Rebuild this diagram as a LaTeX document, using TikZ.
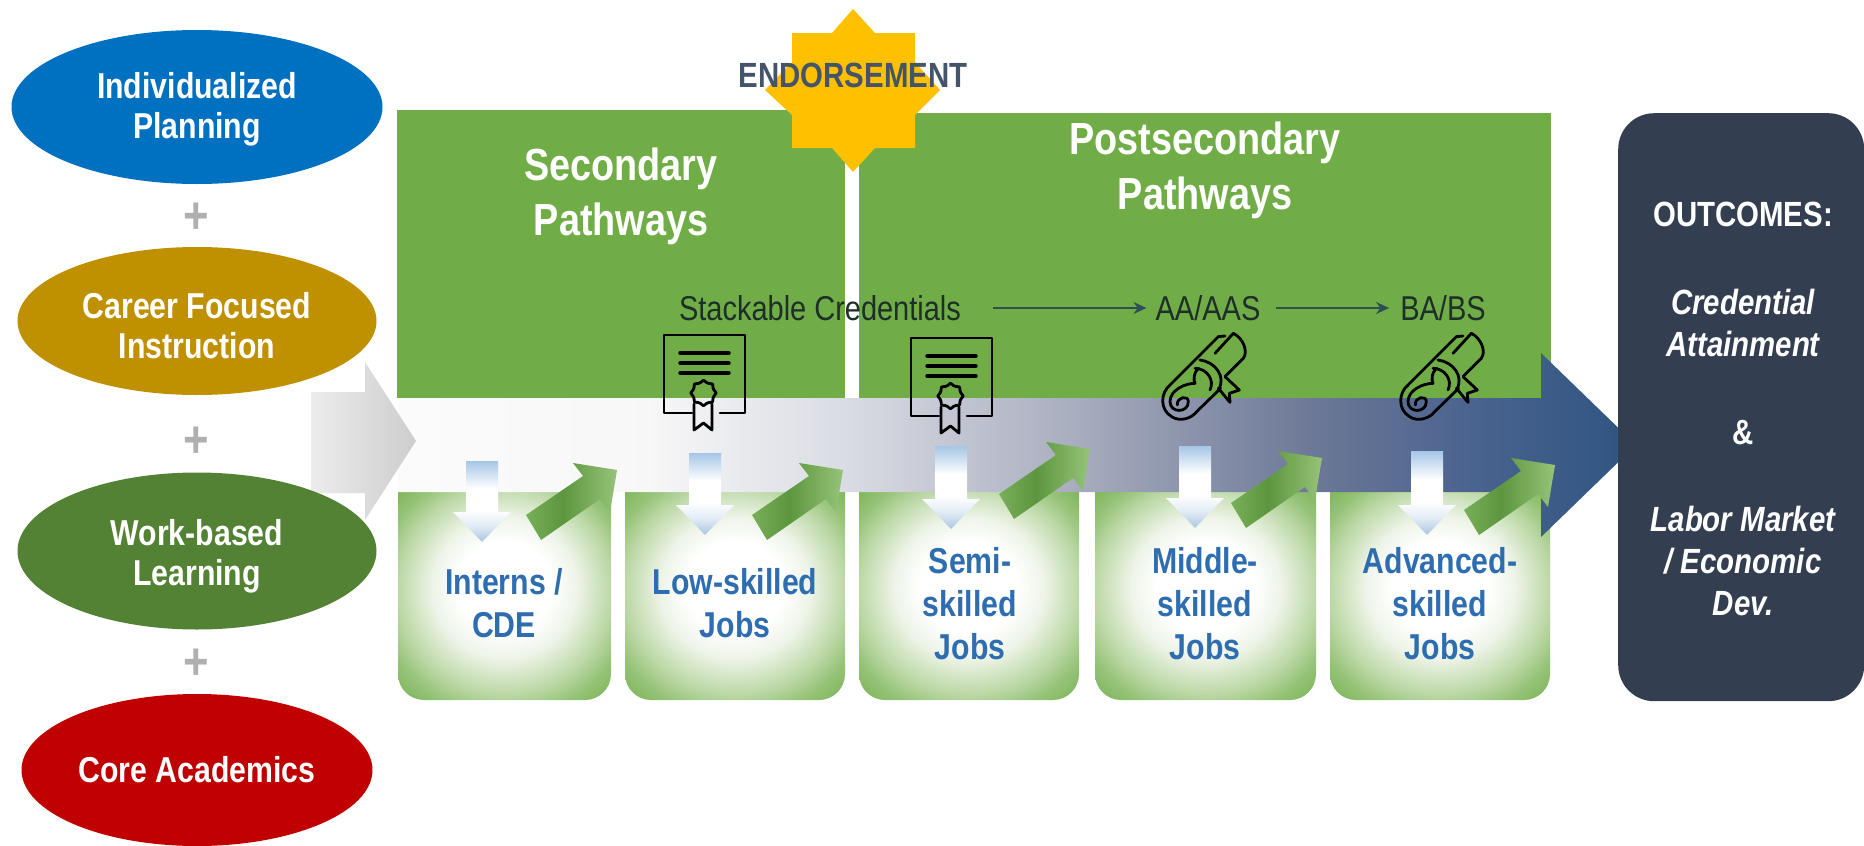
\documentclass[tikz,border=0pt]{standalone}
\usepackage{fontspec}
\setmainfont[FakeStretch=0.84]{Liberation Sans}
\usetikzlibrary{shapes.geometric,arrows.meta}
\definecolor{cblue}{HTML}{0070C0}
\definecolor{cgold}{HTML}{BF9000}
\definecolor{cleaf}{HTML}{548235}
\definecolor{cred}{HTML}{C00000}
\definecolor{cgreen}{HTML}{70AD47}
\definecolor{cnavy}{HTML}{333F50}
\definecolor{cjob}{HTML}{2E6DB0}
\definecolor{cslate}{HTML}{44546A}
\definecolor{cplus}{HTML}{B0B0B0}
\definecolor{cstar}{HTML}{FFC000}
\definecolor{cdark}{HTML}{1E2E28}
\definecolor{clink}{HTML}{2F4F55}
\pgfdeclarehorizontalshading{bandshade}{100bp}{
 color(0bp)=(white!97!gray); color(25bp)=(white!97!gray);
 color(35bp)=(white!94!gray);
 color(43bp)=(rgb,255:red,218;green,220;blue,228);
 color(52bp)=(rgb,255:red,170;green,175;blue,192);
 color(62bp)=(rgb,255:red,108;green,120;blue,150);
 color(68bp)=(rgb,255:red,76;green,100;blue,144);
 color(75bp)=(rgb,255:red,46;green,84;blue,128); color(100bp)=(rgb,255:red,46;green,84;blue,128)}
\pgfdeclarehorizontalshading{greyshade}{100bp}{
 color(0bp)=(rgb,255:red,236;green,236;blue,236); color(25bp)=(rgb,255:red,236;green,236;blue,236);
 color(75bp)=(rgb,255:red,205;green,205;blue,205); color(100bp)=(rgb,255:red,205;green,205;blue,205)}
\pgfdeclarehorizontalshading{leafshade}{100bp}{
 color(0bp)=(rgb,255:red,120;green,175;blue,90); color(25bp)=(rgb,255:red,120;green,175;blue,90);
 color(45bp)=(rgb,255:red,92;green,150;blue,62);
 color(75bp)=(rgb,255:red,150;green,195;blue,120); color(100bp)=(rgb,255:red,150;green,195;blue,120)}
\pgfdeclareverticalshading{dropshade}{100bp}{
 color(0bp)=(rgb,255:red,170;green,198;blue,225); color(25bp)=(rgb,255:red,170;green,198;blue,225);
 color(35bp)=(rgb,255:red,225;green,235;blue,245);
 color(45bp)=(white); color(58bp)=(white);
 color(75bp)=(rgb,255:red,165;green,198;blue,230); color(100bp)=(rgb,255:red,165;green,198;blue,230)}
\pgfdeclareradialshading{boxshade}{\pgfpoint{0bp}{3bp}}{
 color(0bp)=(white); color(11bp)=(white);
 color(17bp)=(rgb,255:red,238;green,244;blue,232);
 color(25bp)=(rgb,255:red,188;green,216;blue,166);
 color(30bp)=(rgb,255:red,150;green,195;blue,120);
 color(38bp)=(rgb,255:red,112;green,173;blue,71);
 color(50bp)=(rgb,255:red,112;green,173;blue,71)}
\tikzset{
 oval/.style={ellipse,inner sep=0pt,text=white,align=center,font=\fontsize{36}{40}\selectfont\bfseries},
 plus/.style={text=cplus,inner sep=0pt,font=\fontsize{52}{52}\selectfont\bfseries},
 panel/.style={fill=cgreen,inner sep=0pt,anchor=north west},
 heading/.style={text=white,align=center,inner sep=0pt,font=\fontsize{45}{55}\selectfont\bfseries},
 cred label/.style={text=cdark,inner sep=0pt,text height=25pt,text depth=0pt,font=\fontsize{34.5}{40}\selectfont},
 cred arrow/.style={draw=clink,line width=1.8pt,-{Stealth[length=13pt,width=12pt]}},
 job/.style={text=cjob,align=center,inner sep=0pt,font=\fontsize{36}{43}\selectfont\bfseries},
 outtext/.style={text=white,align=center,inner sep=0pt,font=\fontsize{35}{42}\selectfont\bfseries},
 icon/.style={draw=black,line width=2.8pt,line join=round,line cap=round},
}
\newcommand{\jobbox}[2]{\shade[shading=boxshade] (#1,492) -- (#2,492) -- (#2,674) arc[start angle=0,end angle=90,radius=26] -- ({#1+26},700) arc[start angle=90,end angle=180,radius=26] -- cycle;}
\newcommand{\droparrow}[3]{\shade[shading=dropshade] ({#1-16},#2) -- ({#1+16},#2) -- ({#1+16},{#3-30}) -- ({#1+29},{#3-30}) -- (#1,#3) -- ({#1-29},{#3-30}) -- ({#1-16},{#3-30}) -- cycle;}
\newcommand{\leafarrow}[2]{\begin{scope}[shift={(#1,#2)}]\shade[shading=leafshade] (0,0) -- (-44,-7) -- (-34,6) -- (-91,45) -- (-76,70) -- (-17,29) -- (-7,42) -- cycle;\end{scope}}
\newcommand{\certicon}[2]{\begin{scope}[shift={(#1,#2)}]
 \draw[icon] (28,78) -- (0,78) -- (0,0) -- (81,0) -- (81,78) -- (56,78);
 \draw[icon,line width=3.4pt] (16,18) -- (65,18) (16,28) -- (65,28) (16,38) -- (65,38);
 \draw[icon] plot[domain=0:345,samples=24,smooth cycle] ({39.5+(11.5+1.2*cos(8*\x))*cos(\x)},{58+(11.5+1.2*cos(8*\x))*sin(\x)});
 \draw[icon] (30,69) -- (30,95) -- (39.5,88) -- (48,95) -- (48,69);
\end{scope}}
\newcommand{\scrollicon}[2]{\begin{scope}[shift={(#1,#2)},scale=.3333]
 \draw[icon] (225,33) -- (205,35) -- (60,180) .. controls (30,205) and (30,255) .. (65,275) .. controls (90,292) and (125,280) .. (140,260) -- (212,190);
 \draw[icon] (145,130) .. controls (130,145) and (130,165) .. (135,175) .. controls (105,175) and (60,195) .. (60,230) .. controls (60,265) and (115,265) .. (115,230) .. controls (115,210) and (80,215) .. (82,240);
 \draw[icon] (250,25) .. controls (280,40) and (295,80) .. (280,100) -- (225,155);
 \draw[icon] (250,25) -- (195,85);
 \draw[icon] (150,105) .. controls (195,110) and (230,155) .. (205,195);
 \draw[icon] (135,130) .. controls (170,130) and (195,165) .. (180,195);
 \draw[icon] (205,190) -- (240,232) -- (238,205) -- (268,195) -- (225,155);
\end{scope}}
\begin{document}
\begin{tikzpicture}[x=1pt,y=-1pt]
\useasboundingbox (0,0) rectangle (1864,846);
% panels
\node[panel,minimum width=448pt,minimum height=288pt] (sec) at (397,110) {};
\node[panel,minimum width=692pt,minimum height=285pt] (post) at (859,113) {};
% job boxes
\jobbox{398}{611}
\jobbox{625}{845}
\jobbox{859}{1079}
\jobbox{1095}{1316}
\jobbox{1330}{1550}
% flow arrow
\shade[shading=bandshade] (398,398) -- (1541,398) -- (1541,353) -- (1636,445) -- (1541,537) -- (1541,492) -- (398,492) -- cycle;
% grey entry arrow
\shade[shading=greyshade] (311,392) -- (365,392) -- (365,362) -- (416,441) -- (365,520) -- (365,493) -- (311,493) -- cycle;
% star
\fill[cstar] (853,9) -- (875,33) -- (915,33) -- (915,62) -- (940,90) -- (915,115) -- (915,148) -- (875,148) -- (853,172) -- (832,148) -- (792,148) -- (792,115) -- (765,90) -- (792,62) -- (792,33) -- (832,33) -- cycle;
\node[text=cslate,inner sep=0pt,font=\fontsize{35}{40}\selectfont\bfseries] (endo) at (853,75) {ENDORSEMENT};
% ovals
\node[oval,fill=cblue,minimum width=371pt,minimum height=154pt] (o1) at (197,107) {\rule{0pt}{30pt}Individualized\\Planning};
\node[oval,fill=cgold,minimum width=359pt,minimum height=148pt] (o2) at (197,321) {\rule{0pt}{36pt}Career Focused\\Instruction};
\node[oval,fill=cleaf,minimum width=359pt,minimum height=157pt] (o3) at (197,551) {\rule{0pt}{36pt}Work-based\\Learning};
\node[oval,fill=cred,minimum width=351pt,minimum height=152pt] (o4) at (197,770) {Core Academics};
\node[plus] (p1) at (196,218) {+};
\node[plus] (p2) at (196,442) {+};
\node[plus] (p3) at (196,664) {+};
% headings
\node[heading] (h1) at (621,196) {Secondary\\Pathways};
\node[heading] (h2) at (1205,170) {Postsecondary\\Pathways};
% credentials
\node[cred label] (stack) at (820,308) {Stackable Credentials};
\node[cred label] (aa) at (1208,308) {AA/AAS};
\node[cred label] (ba) at (1443,308) {BA/BS};
\draw[cred arrow,shorten <=32pt,shorten >=9pt] (stack) -- (aa);
\draw[cred arrow,shorten <=15pt,shorten >=11pt] (aa) -- (ba);
% icons
\certicon{664}{335}
\certicon{911}{338}
\scrollicon{1150}{325}
\scrollicon{1388}{325}
% small arrows
\droparrow{482}{461}{542}
\droparrow{705}{453}{535}
\droparrow{951}{446}{529}
\droparrow{1195}{446}{528}
\droparrow{1427}{451}{535}
\leafarrow{617}{470}
\leafarrow{843}{470}
\leafarrow{1090}{449}
\leafarrow{1322}{458}
\leafarrow{1555}{465}
% job labels
\node[job] (j1) at (504,603) {Interns /\\CDE};
\node[job] (j2) at (735,603) {Low-skilled\\Jobs};
\node[job] (j3) at (970,604) {Semi-\\skilled\\Jobs};
\node[job] (j4) at (1205,604) {Middle-\\skilled\\Jobs};
\node[job] (j5) at (1440,604) {Advanced-\\skilled\\Jobs};
% outcomes
\node[fill=cnavy,rounded corners=36pt,minimum width=246pt,minimum height=588pt,inner sep=0pt,anchor=north west] (out) at (1618,113) {};
\node[outtext] (t1) at (1743,214) {OUTCOMES:};
\node[outtext] (t2) at (1743,323) {\itshape Credential\\\itshape Attainment};
\node[outtext] (t3) at (1743,433) {\&};
\node[outtext] (t4) at (1743,561) {\itshape Labor Market\\\itshape / Economic\\\itshape Dev.};
\end{tikzpicture}
\end{document}
